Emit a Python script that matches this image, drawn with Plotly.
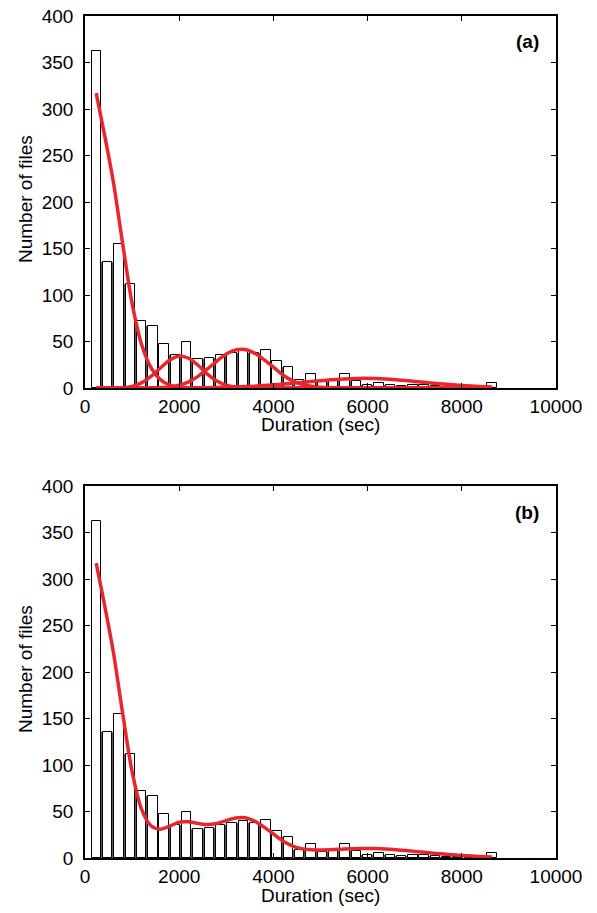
import plotly.graph_objects as go

# ---- data ----
bin_centers = [240, 480, 720, 960, 1200, 1440, 1680, 1920, 2160, 2400, 2640, 2880,
               3120, 3360, 3600, 3840, 4080, 4320, 4560, 4800, 5040, 5280, 5520, 5760,
               6000, 6240, 6480, 6720, 6960, 7200, 7440, 7680, 7920, 8160, 8400, 8640]
counts = [362, 135, 155, 112, 72, 67, 47, 35, 50, 31, 32, 35,
          38, 40, 38, 41, 29, 23, 9, 15, 6, 8, 15, 8,
          3, 5, 3, 2, 3, 3, 2, 1, 1, 0, 0, 5]

curve_x = [238, 400, 600, 800, 1000, 1200, 1400, 1600, 1800, 2000, 2200, 2400,
           2600, 2800, 3000, 3200, 3400, 3600, 3800, 4000, 4200, 4400, 4600, 4800,
           5000, 5400, 5800, 6200, 6600, 7000, 7400, 7800, 8200, 8645]
comp1 = [317, 276, 222, 155, 91, 47, 22, 9, 3, 1, 0.3, 0,
         0, 0, 0, 0, 0, 0, 0, 0, 0, 0, 0, 0,
         0, 0, 0, 0, 0, 0, 0, 0, 0, 0]
comp2 = [0, 0, 0, 0.4, 1.8, 5.5, 12.5, 21.5, 30, 34.5, 32, 24.5,
         15, 7.5, 3, 1, 0.3, 0.1, 0, 0, 0, 0, 0, 0,
         0, 0, 0, 0, 0, 0, 0, 0, 0, 0]
comp3 = [0, 0, 0, 0, 0, 0, 0.2, 0.5, 1.2, 3, 6.5, 12.5,
         20.5, 29, 36.5, 41, 41.5, 37.5, 30.5, 22.5, 14, 8, 4, 2,
         0.8, 0.1, 0, 0, 0, 0, 0, 0, 0, 0]
comp4 = [0, 0, 0, 0, 0, 0, 0, 0, 0.05, 0.1, 0.15, 0.25,
         0.4, 0.6, 0.8, 1.1, 1.5, 2, 2.7, 3.4, 4.2, 5.1, 6, 7,
         7.9, 9.4, 10.3, 10.1, 8.9, 7.1, 5.2, 3.5, 2.1, 1.0]
mixture = [a + b + c + d for a, b, c, d in zip(comp1, comp2, comp3, comp4)]

x_ticks = [0, 2000, 4000, 6000, 8000, 10000]
x_tick_labels = ["0", "2000", "4000", "6000", "8000", "10000"]
y_ticks = [0, 50, 100, 150, 200, 250, 300, 350, 400]
y_tick_labels = ["0", "50", "100", "150", "200", "250", "300", "350", "400"]

# ---- styling ----
W, H = 597, 913
RED = "#e8262c"
FONT = "Liberation Sans, Arial, Helvetica, sans-serif"
bin_w = bin_centers[1] - bin_centers[0]
seam_x = [(a + b) / 2 for a, b in zip(bin_centers[:-1], bin_centers[1:])]
seam_h = [min(a, b) for a, b in zip(counts[:-1], counts[1:])]


def px(p):   # page x pixel -> paper fraction
    return p / W


def py(p):   # page y pixel -> paper fraction
    return 1 - p / H


fig = go.Figure()


def add_hist(xa, ya):
    fig.add_trace(go.Bar(x=seam_x, y=seam_h, width=bin_w * 0.17,
                         marker=dict(color="#5a5a5a", line=dict(width=0)),
                         xaxis=xa, yaxis=ya, showlegend=False, hoverinfo="skip"))
    fig.add_trace(go.Bar(x=bin_centers, y=counts, width=bin_w * 0.83,
                         marker=dict(color="white", line=dict(color="black", width=1)),
                         xaxis=xa, yaxis=ya, showlegend=False))


add_hist("x", "y")
for comp in (comp1, comp2, comp3, comp4):
    fig.add_trace(go.Scatter(x=curve_x, y=comp, mode="lines",
                             line=dict(color=RED, width=3.5, shape="spline", smoothing=0.8),
                             xaxis="x", yaxis="y", showlegend=False))

add_hist("x2", "y2")
fig.add_trace(go.Scatter(x=curve_x, y=mixture, mode="lines",
                         line=dict(color=RED, width=3.5, shape="spline", smoothing=0.8),
                         xaxis="x2", yaxis="y2", showlegend=False))

xdom = [px(85), px(556)]
top_dom = [py(388), py(16)]
bot_dom = [py(858), py(486)]

FS = 19
axis_common = dict(showgrid=False, zeroline=False, showline=True, linecolor="black",
                   linewidth=1.5, mirror="ticks", ticks="inside", ticklen=5,
                   tickwidth=1, tickcolor="black", automargin=False,
                   ticklabeloverflow="allow",
                   tickfont=dict(family=FONT, size=FS, color="black"))
xax = dict(domain=xdom, range=[0, 10000], tickmode="array", tickvals=x_ticks,
           ticktext=x_tick_labels, ticklabelstandoff=0, **axis_common)
yax = dict(range=[0, 400], tickmode="array", tickvals=y_ticks,
           ticktext=y_tick_labels, ticklabelstandoff=6, **axis_common)

fig.update_layout(
    width=W, height=H, margin=dict(l=0, r=0, t=0, b=0, pad=0),
    paper_bgcolor="white", plot_bgcolor="white", barmode="overlay", bargap=0,
    xaxis=dict(anchor="y", **xax),
    yaxis=dict(domain=top_dom, anchor="x", **yax),
    xaxis2=dict(anchor="y2", **xax),
    yaxis2=dict(domain=bot_dom, anchor="x2", **yax),
)

ann_font = dict(family=FONT, size=FS, color="black")
for yc_title, yc_xlabel, yc_panel, label in ((199, 425, 42, "(a)"), (669, 895, 512, "(b)")):
    fig.add_annotation(x=px(25), y=py(yc_title), xref="paper", yref="paper",
                       text="Number of files", textangle=-90, showarrow=False,
                       font=ann_font, xanchor="center", yanchor="middle")
    fig.add_annotation(x=px(320.5), y=py(yc_xlabel), xref="paper", yref="paper",
                       text="Duration (sec)", showarrow=False, font=ann_font,
                       xanchor="center", yanchor="middle")
    fig.add_annotation(x=px(527), y=py(yc_panel), xref="paper", yref="paper",
                       text="<b>" + label + "</b>", showarrow=False,
                       font=dict(family=FONT, size=FS, color="black"),
                       xanchor="center", yanchor="middle")

fig.write_html("out.html", config={"displayModeBar": False},
               post_script="document.body.style.margin='0';document.body.style.overflow='hidden';")
